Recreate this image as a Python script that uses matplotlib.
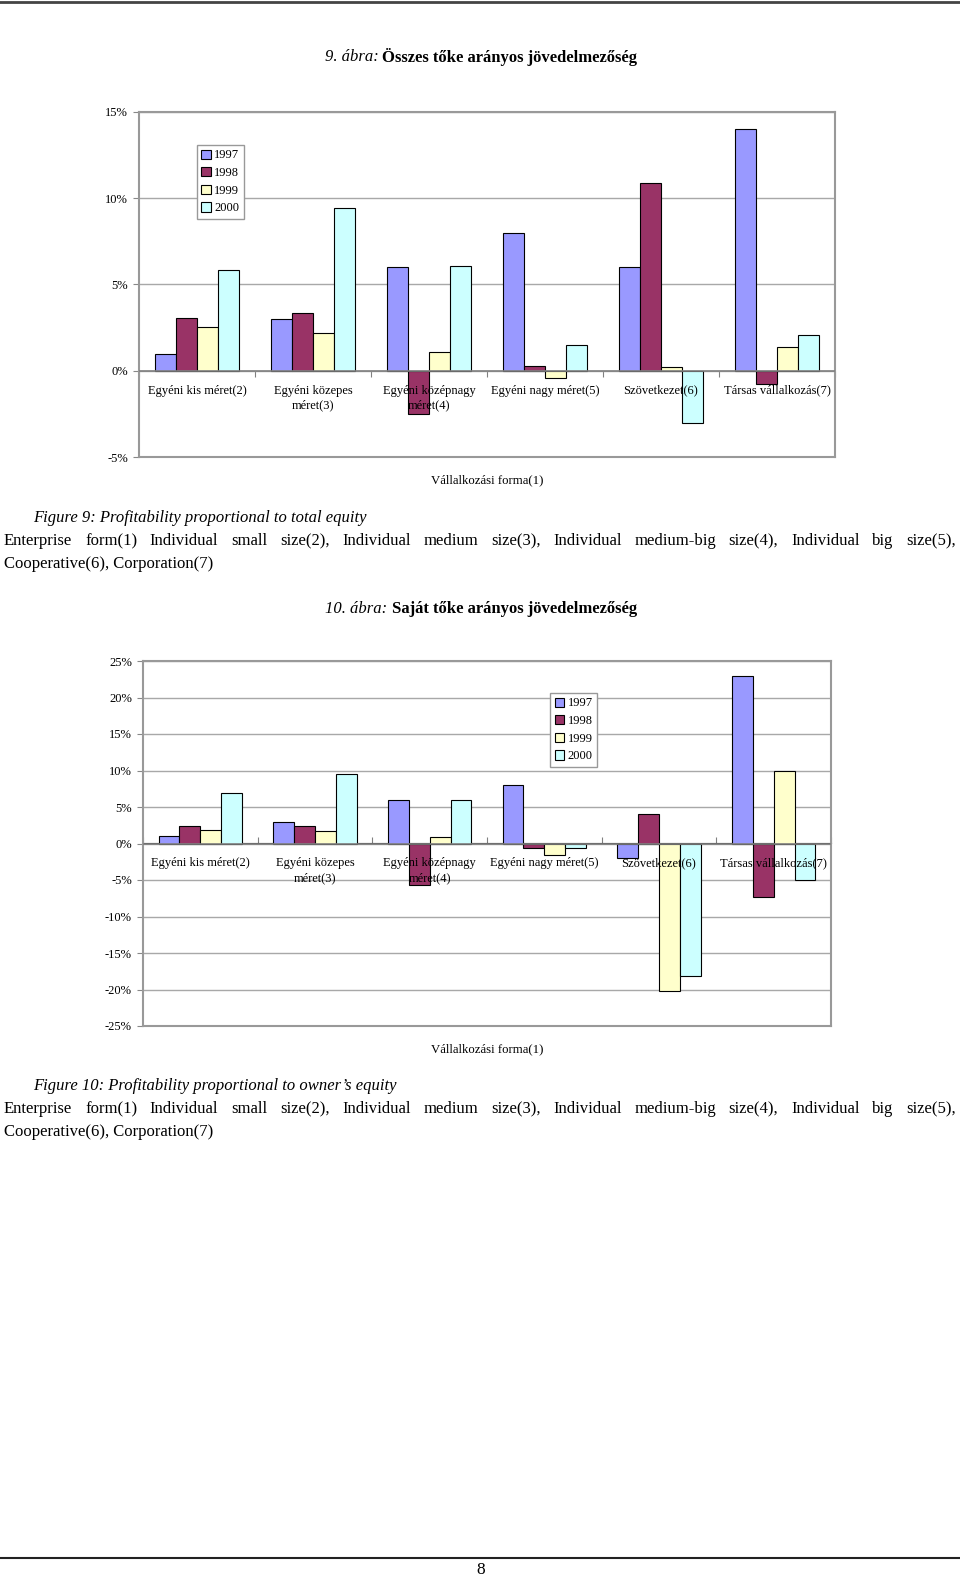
import matplotlib
matplotlib.use("Agg")
import matplotlib.pyplot as plt
from matplotlib.lines import Line2D
import numpy as np

plt.rcParams['font.family'] = ['Liberation Serif', 'DejaVu Serif']

# data
categories = ['Egyéni kis méret(2)', 'Egyéni közepes\nméret(3)', 'Egyéni középnagy\nméret(4)',
              'Egyéni nagy méret(5)', 'Szövetkezet(6)', 'Társas vállalkozás(7)']
years = ['1997', '1998', '1999', '2000']
colors = ['#9999FF', '#993366', '#FFFFCC', '#CCFFFF']

# Figure 9: total equity (%)
total_1997 = [1.0, 3.0, 6.0, 8.0, 6.0, 14.0]
total_1998 = [3.05, 3.35, -2.5, 0.3, 10.9, -0.75]
total_1999 = [2.55, 2.2, 1.1, -0.4, 0.2, 1.35]
total_2000 = [5.85, 9.45, 6.05, 1.5, -3.05, 2.1]

# Figure 10: owner's equity (%)
own_1997 = [1.0, 3.0, 6.0, 8.0, -2.0, 23.0]
own_1998 = [2.4, 2.4, -5.75, -0.6, 4.1, -7.35]
own_1999 = [1.85, 1.75, 0.85, -1.55, -20.25, 9.9]
own_2000 = [6.9, 9.5, 5.95, -0.6, -18.2, -4.95]

W, H = 960, 1577
fig = plt.figure(figsize=(W / 100, H / 100), dpi=100)
renderer = fig.canvas.get_renderer()


def fx(x):
    return x / W


def fy(y):
    return 1 - y / H


def bar_chart(rect, series, ylim, ystep, leg_anchor):
    left, top, right, bottom = rect
    ax = fig.add_axes([fx(left), fy(bottom), fx(right - left), (bottom - top) / H])
    x = np.arange(len(categories))
    w = 1 / 5.5
    for i, (vals, c, yr) in enumerate(zip(series, colors, years)):
        ax.bar(x + (i - 1.5) * w, vals, w, color=c, edgecolor='black', linewidth=0.8,
               label=yr, zorder=3)
    ax.set_xlim(-0.5, len(categories) - 0.5)
    ax.set_ylim(*ylim)
    ax.set_yticks(np.arange(ylim[0], ylim[1] + 0.1, ystep))
    ax.set_yticklabels([f'{int(v)}%' for v in ax.get_yticks()], fontsize=9)
    ax.tick_params(axis='y', direction='out', length=4, color='#888888', pad=4)
    ax.set_xticks([])
    ax.grid(axis='y', color='#A8A8A8', linewidth=1, zorder=0)
    for s in ax.spines.values():
        s.set_color('#999999')
        s.set_linewidth(1.5)
    ax.axhline(0, color='#808080', linewidth=1.2, zorder=4)
    # category tick marks on the zero line
    loc = (0 - ylim[0]) / (ylim[1] - ylim[0])
    sec = ax.secondary_xaxis(loc)
    sec.set_xticks(np.arange(len(categories) + 1) - 0.5)
    sec.set_xticklabels([])
    sec.tick_params(length=4, color='#808080')
    sec.spines['bottom'].set_visible(False)
    for i, cat in enumerate(categories):
        ax.annotate(cat, xy=(i, 0), xytext=(0, -10), textcoords='offset points',
                    ha='center', va='top', fontsize=9, linespacing=1.3,
                    zorder=5, annotation_clip=False)
    ax.annotate('Vállalkozási forma(1)', xy=(0.5, 0), xycoords='axes fraction',
                xytext=(0, -17), textcoords='offset points', ha='center', va='center',
                fontsize=9.2)
    leg = ax.legend(loc='upper left', bbox_to_anchor=leg_anchor, fontsize=9,
                    frameon=True, fancybox=False, framealpha=1, edgecolor='#999999',
                    handlelength=0.75, handleheight=0.75, handletextpad=0.3,
                    borderpad=0.35, labelspacing=0.45, borderaxespad=0)
    leg.get_frame().set_linewidth(1)
    return ax


def title(y, num, rest):
    t1 = fig.text(0, fy(y), num, fontsize=12, style='italic', va='center')
    t2 = fig.text(0, fy(y), rest, fontsize=12, weight='bold', va='center')
    w1 = t1.get_window_extent(renderer).width
    w2 = t2.get_window_extent(renderer).width
    gap = 4
    x0 = 481 - (w1 + gap + w2) / 2
    t1.set_x(fx(x0))
    t2.set_x(fx(x0 + w1 + gap))


def justified(y, line, x0=4, x1=956):
    words = line.split()
    texts = [fig.text(0, fy(y), wd, fontsize=12, va='center') for wd in words]
    widths = [t.get_window_extent(renderer).width for t in texts]
    gap = (x1 - x0 - sum(widths)) / (len(words) - 1)
    x = x0
    for t, wd in zip(texts, widths):
        t.set_x(fx(x))
        x += wd + gap


# page lines
fig.add_artist(Line2D([0, 1], [fy(1.5), fy(1.5)], color='#444444', linewidth=2,
                      transform=fig.transFigure))
fig.add_artist(Line2D([0, 1], [fy(1558), fy(1558)], color='#222222', linewidth=1.5,
                      transform=fig.transFigure))
fig.text(fx(481), fy(1570), '8', fontsize=12.5, ha='center', va='center')

caption_body = ('Enterprise form(1) Individual small size(2), Individual medium size(3), '
                'Individual medium-big size(4), Individual big size(5),')
caption_end = 'Cooperative(6), Corporation(7)'

# chart 9
title(57, '9. ábra:', 'Összes tőke arányos jövedelmezőség')
bar_chart((139, 112, 835, 457), [total_1997, total_1998, total_1999, total_2000],
          (-5, 15), 5, (0.083, 0.904))
fig.text(fx(33), fy(518), 'Figure 9: Profitability proportional to total equity',
         fontsize=12, style='italic', va='center')
justified(541, caption_body)
fig.text(fx(4), fy(564), caption_end, fontsize=12, va='center')

# chart 10
title(609, '10. ábra:', 'Saját tőke arányos jövedelmezőség')
bar_chart((143, 661, 831, 1026), [own_1997, own_1998, own_1999, own_2000],
          (-25, 25), 5, (0.592, 0.912))
fig.text(fx(33), fy(1086), 'Figure 10: Profitability proportional to owner\u2019s equity',
         fontsize=12, style='italic', va='center')
justified(1109, caption_body)
fig.text(fx(4), fy(1132), caption_end, fontsize=12, va='center')

fig.savefig('out.png', dpi=100)
